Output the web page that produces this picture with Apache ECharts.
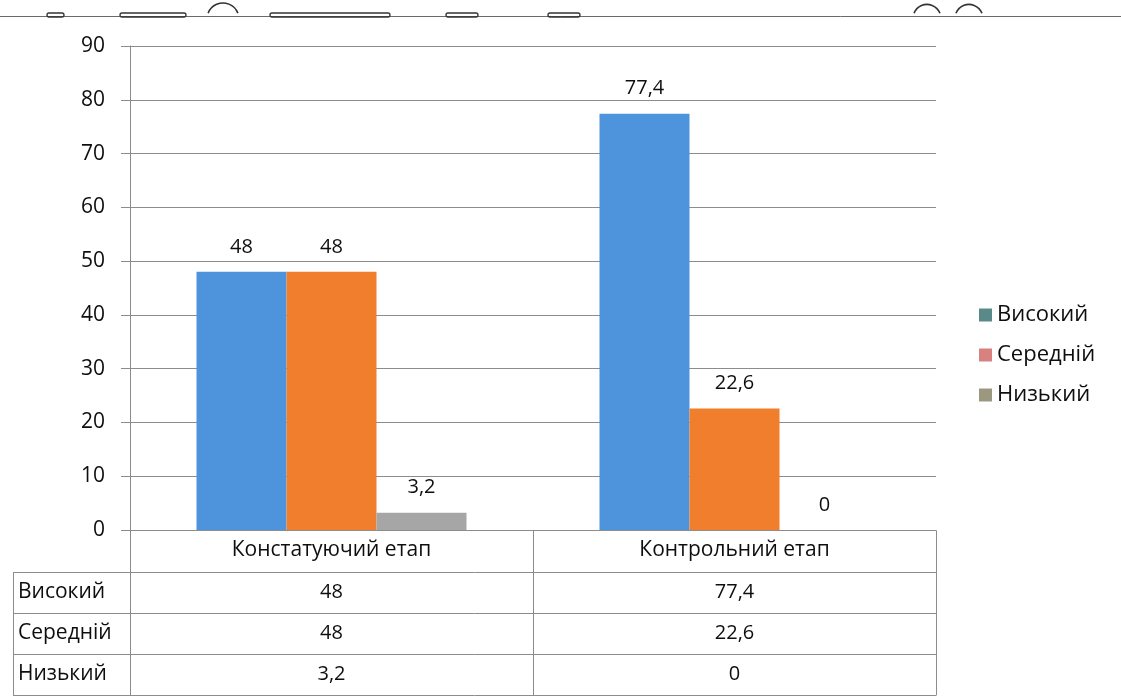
<!DOCTYPE html>
<html>
<head>
<meta charset="utf-8">
<script src="https://cdn.jsdelivr.net/npm/echarts@6/dist/echarts.min.js"></script>
<style>
  html, body { margin: 0; padding: 0; background: #fff; }
  #chart { width: 1121px; height: 700px; }
</style>
</head>
<body>
<div id="chart"></div>
<script>
// Stages (categories) and levels (series)
const stages = ['Констатуючий етап', 'Контрольний етап'];
const levels = ['Високий', 'Середній', 'Низький'];
const highValues = [48, 77.4];
const midValues = [48, 22.6];
const lowValues = [3.2, 0];
const yTicks = [0, 10, 20, 30, 40, 50, 60, 70, 80, 90];

const barColors = ['#4e94dc', '#f07e2c', '#a6a6a6'];
const legendColors = ['#5a8a88', '#d98080', '#9c9880'];
const FONT = '"Open Sans", Roboto, sans-serif';
const TXT = '#0e0e0e';
const LINE = '#8c8c8c';

const fmt = v => String(v).replace('.', ',');
const seriesValues = [highValues, midValues, lowValues];

const chart = echarts.init(document.getElementById('chart'));

const option = {
  backgroundColor: '#ffffff',
  animation: false,
  textStyle: { fontFamily: FONT },
  grid: { left: 130, right: 185, top: 46, bottom: 170, containLabel: false },
  legend: {
    orient: 'vertical',
    left: 974,
    top: 299,
    itemWidth: 13,
    itemHeight: 13,
    itemGap: 18,
    icon: 'rect',
    textStyle: { fontFamily: FONT, fontSize: 22, color: TXT, padding: [0, 0, 0, 0] },
    data: levels.map((n, i) => ({ name: n, itemStyle: { color: legendColors[i] } }))
  },
  xAxis: {
    type: 'category',
    data: stages,
    axisLine: { show: true, lineStyle: { color: LINE, width: 1 } },
    axisTick: { show: false },
    axisLabel: { fontFamily: FONT, fontSize: 21, color: TXT, margin: 10 },
    splitLine: { show: false }
  },
  yAxis: {
    type: 'value',
    min: yTicks[0],
    max: yTicks[yTicks.length - 1],
    interval: yTicks[1] - yTicks[0],
    axisLine: { show: true, lineStyle: { color: LINE, width: 1 } },
    axisTick: { show: true, length: 9, lineStyle: { color: LINE } },
    axisLabel: { fontFamily: FONT, fontSize: 21, color: TXT, margin: 25 },
    splitLine: { show: true, lineStyle: { color: LINE, width: 1 } }
  },
  series: levels.map((n, i) => ({
    name: n,
    type: 'bar',
    data: seriesValues[i],
    barGap: '0%',
    barCategoryGap: '33%',
    itemStyle: { color: barColors[i] },
    label: {
      show: true,
      position: 'top',
      distance: 15,
      fontFamily: FONT,
      fontSize: 20,
      color: TXT,
      formatter: p => fmt(p.value)
    }
  }))
};

chart.setOption(option);

// Data table under the plot, positioned from the category axis
function buildTable() {
  const c0 = chart.convertToPixel({ xAxisIndex: 0 }, 0);
  const c1 = chart.convertToPixel({ xAxisIndex: 0 }, 1);
  const band = c1 - c0;
  const bounds = [c0 - band / 2, c0 + band / 2, c1 + band / 2];
  const yBase = chart.convertToPixel({ yAxisIndex: 0 }, 0);
  const headerH = 42;
  const rowH = 41;
  const tableLeft = 13;
  const els = [];
  const lineStyle = { stroke: LINE, lineWidth: 1 };
  const crisp = v => Math.round(v) + 0.5;

  // horizontal lines
  for (let r = 0; r <= levels.length; r++) {
    const y = crisp(yBase + headerH + r * rowH);
    els.push({ type: 'line', shape: { x1: tableLeft, y1: y, x2: bounds[2], y2: y }, style: lineStyle, silent: true });
  }
  const yEnd = crisp(yBase + headerH + levels.length * rowH);
  // vertical lines
  els.push({ type: 'line', shape: { x1: crisp(tableLeft), y1: crisp(yBase + headerH), x2: crisp(tableLeft), y2: yEnd }, style: lineStyle, silent: true });
  bounds.forEach(x => {
    els.push({ type: 'line', shape: { x1: crisp(x), y1: crisp(yBase), x2: crisp(x), y2: yEnd }, style: lineStyle, silent: true });
  });
  // row labels and values
  levels.forEach((name, r) => {
    const cy = yBase + headerH + r * rowH + rowH / 2;
    els.push({
      type: 'text', x: tableLeft + 5, y: cy,
      style: { text: name, fontFamily: FONT, fontSize: 21, fill: TXT, textVerticalAlign: 'middle', textAlign: 'left' },
      silent: true
    });
    seriesValues[r].forEach((v, ci) => {
      const cx = chart.convertToPixel({ xAxisIndex: 0 }, ci);
      els.push({
        type: 'text', x: cx, y: cy,
        style: { text: fmt(v), fontFamily: FONT, fontSize: 20, fill: TXT, textVerticalAlign: 'middle', textAlign: 'center' },
        silent: true
      });
    });
  });

  // strip across the top edge
  const top = [];
  top.push({ type: 'line', shape: { x1: 0, y1: 16.5, x2: 1121, y2: 16.5 }, style: { stroke: '#6a6a6a', lineWidth: 1 }, silent: true });
  [[47, 17], [120, 66], [270, 120], [446, 32], [548, 32]].forEach(([x, w]) => {
    top.push({ type: 'rect', shape: { x: x, y: 13, width: w, height: 4, r: 2 }, style: { fill: 'none', stroke: '#333', lineWidth: 1.3 }, silent: true });
  });
  [[223, 10], [927, 8], [969, 8]].forEach(([cx, r]) => {
    top.push({ type: 'arc', shape: { cx: cx, cy: 16 + r * 0.3, r: r + 6, startAngle: Math.PI * 1.12, endAngle: Math.PI * 1.88 }, style: { fill: 'none', stroke: '#333', lineWidth: 1.6 }, silent: true });
  });

  chart.setOption({ graphic: { elements: els.concat(top) } });
}
buildTable();
</script>
</body>
</html>
